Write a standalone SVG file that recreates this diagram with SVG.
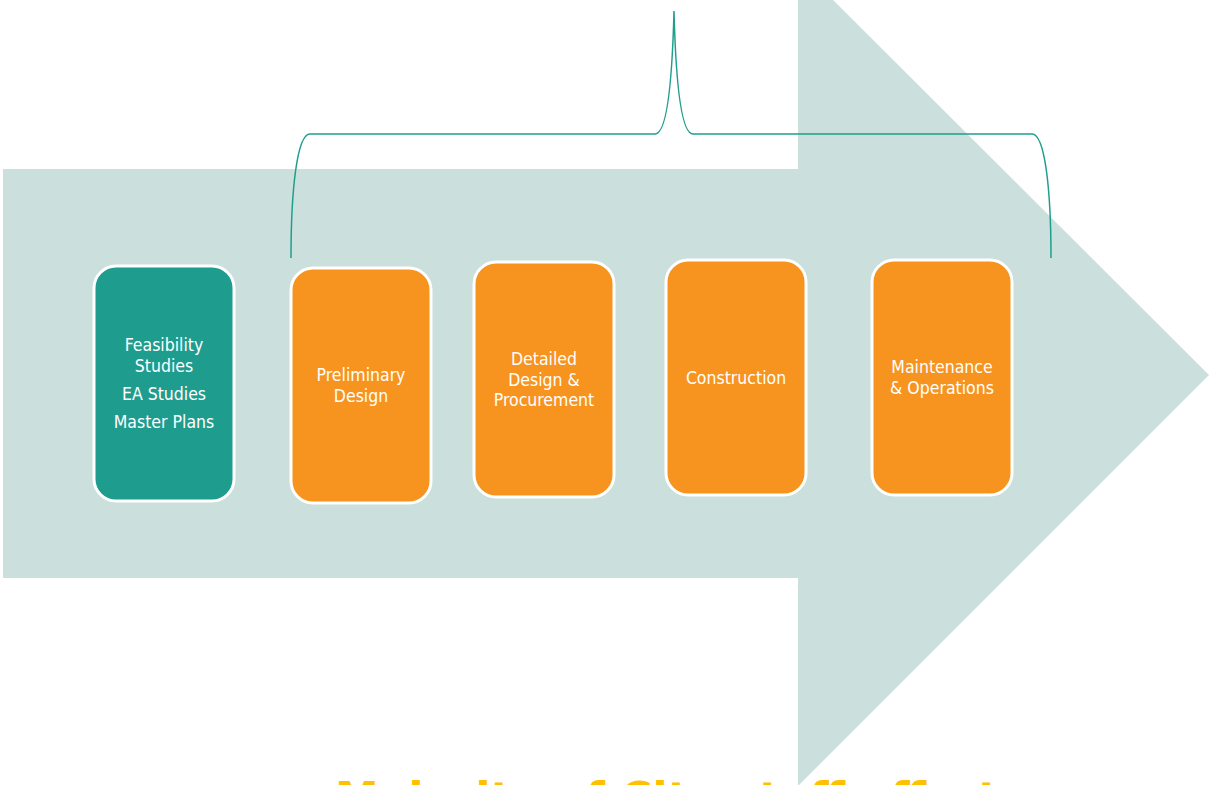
<svg xmlns="http://www.w3.org/2000/svg" width="1209" height="785" viewBox="0 0 1209 785">
  <style>
    .stage { stroke: #ffffff; stroke-width: 3; }
    .teal { fill: #1e9c8e; }
    .orange { fill: #f7941f; }
    .label { font-family: "DejaVu Sans Condensed", "DejaVu Sans", Tahoma, sans-serif; font-stretch: condensed; font-size: 17.5px; fill: #ffffff; text-anchor: middle; }
    .brace { fill: none; stroke: #1f9e8e; stroke-width: 1.5; }
    .caption { font-family: "DejaVu Sans", Verdana, sans-serif; font-weight: bold; font-size: 44px; fill: #ffc000; }
  </style>

  <rect width="1209" height="785" fill="#ffffff"/>

  <!-- big background arrow -->
  <polygon id="arrow" points="3,169 798,169 798,-35 1209,375 798,786 798,578 3,578" fill="#cbdfdc"/>

  <!-- brace spanning the City-led stages -->
  <g id="connectors">
    <path class="brace" d="M291,258 C291,190 297,134 310,134 L655,134 C666,134 672,90 674,11 C676,90 682,134 693,134 L1032,134 C1045,134 1051,190 1051,258"/>
  </g>

  <g id="feasibility">
    <rect class="stage teal" x="94" y="266" width="140" height="235" rx="22"/>
    <text class="label" x="164" y="351">Feasibility</text>
    <text class="label" x="164" y="372">Studies</text>
    <text class="label" x="164" y="400">EA Studies</text>
    <text class="label" x="164" y="428">Master Plans</text>
  </g>

  <g id="preliminary">
    <rect class="stage orange" x="291" y="268" width="140" height="235" rx="22"/>
    <text class="label" x="361" y="381">Preliminary</text>
    <text class="label" x="361" y="402">Design</text>
  </g>

  <g id="detailed">
    <rect class="stage orange" x="474" y="262" width="140" height="235" rx="22"/>
    <text class="label" x="544" y="365">Detailed</text>
    <text class="label" x="544" y="386">Design &amp;</text>
    <text class="label" x="544" y="406">Procurement</text>
  </g>

  <g id="construction">
    <rect class="stage orange" x="666" y="260" width="140" height="235" rx="22"/>
    <text class="label" x="736" y="384">Construction</text>
  </g>

  <g id="maintenance">
    <rect class="stage orange" x="872" y="260" width="140" height="235" rx="22"/>
    <text class="label" x="942" y="373">Maintenance</text>
    <text class="label" x="942" y="394">&amp; Operations</text>
  </g>

  <text class="caption" x="335" y="814">Majority of City staff effort</text>
</svg>
